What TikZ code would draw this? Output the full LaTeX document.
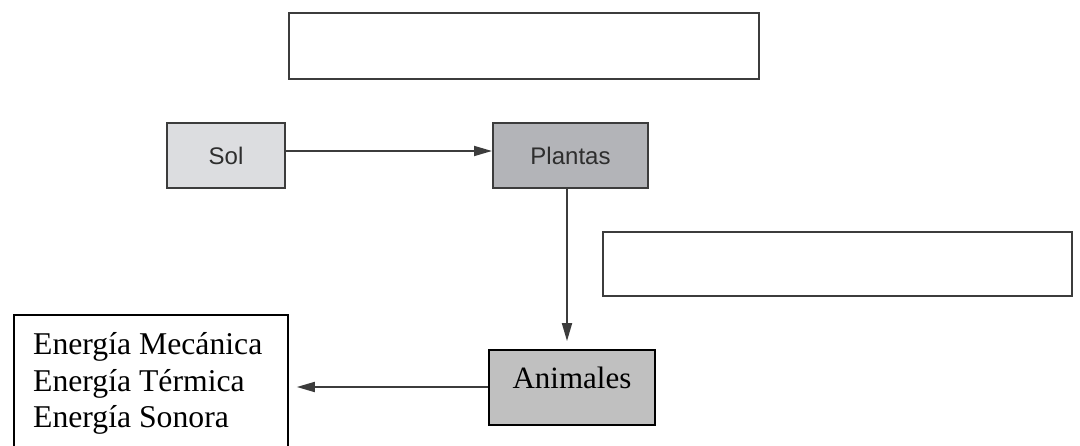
\documentclass[tikz,border=0pt]{standalone}
\usepackage{fontspec}
\setmainfont{Liberation Serif}
\newfontfamily\boxsans{Liberation Sans}
\usetikzlibrary{arrows.meta}

\definecolor{edgegray}{HTML}{3C3C3C}
\definecolor{sunfill}{HTML}{DCDDE0}
\definecolor{plantfill}{HTML}{B3B4B8}
\definecolor{animalfill}{HTML}{C0C0C0}
\definecolor{sanstext}{HTML}{2E2E2E}

\tikzset{
  emptybox/.style={draw=edgegray, line width=2pt, fill=white, inner sep=0pt},
  sansbox/.style={draw=edgegray, line width=2pt, inner sep=0pt,
    font=\boxsans\fontsize{24pt}{28pt}\selectfont, text=sanstext},
  serifbox/.style={draw=black, line width=1.8pt, inner sep=0pt,
    font=\fontsize{31pt}{36.5pt}\selectfont},
  flow/.style={draw=edgegray, line width=1.8pt,
    -{Triangle[length=18pt,width=10pt]}, shorten >=0pt}
}

\begin{document}
\begin{tikzpicture}[x=1pt, y=-1pt]
  \useasboundingbox (0,0) rectangle (1080,446);
  \clip (0,0) rectangle (1080,446);

  % empty answer boxes
  \node[emptybox, minimum width=470pt, minimum height=66pt] (topbox) at (524,46) {};
  \node[emptybox, minimum width=469pt, minimum height=64pt] (midbox) at (837.5,264) {};

  % energy chain
  \node[sansbox, fill=sunfill, minimum width=118pt, minimum height=65pt] (sol) at (226,155.5) {Sol};
  \node[sansbox, fill=plantfill, minimum width=155pt, minimum height=65pt] (plantas) at (570.5,155.5) {Plantas};
  \node[serifbox, fill=animalfill, minimum width=166pt, minimum height=75pt,
        text height=21pt, text depth=19pt] (animales) at (572,387.5) {Animales};

  % forms of energy (box runs past the lower edge)
  \node[draw=black, line width=1.8pt, inner sep=0pt, anchor=north west,
        minimum width=274pt, minimum height=160pt] (energias) at (13,314) {};
  \node[font=\fontsize{31.7pt}{36.5pt}\selectfont, align=left, inner sep=0pt,
        anchor=base west] (energiastxt) at (33,428)
        {Energía Mecánica\\Energía Térmica\\Energía Sonora};

  % connectors
  \draw[flow] (sol.east |- 0,151) -- (plantas.west |- 0,151);
  \draw[flow, shorten >=8pt] (plantas.south -| 567,0) -- (animales.north -| 567,0);
  \draw[flow, shorten >=8pt] (animales.west |- 0,387) -- (energias.east |- 0,387);
\end{tikzpicture}
\end{document}
